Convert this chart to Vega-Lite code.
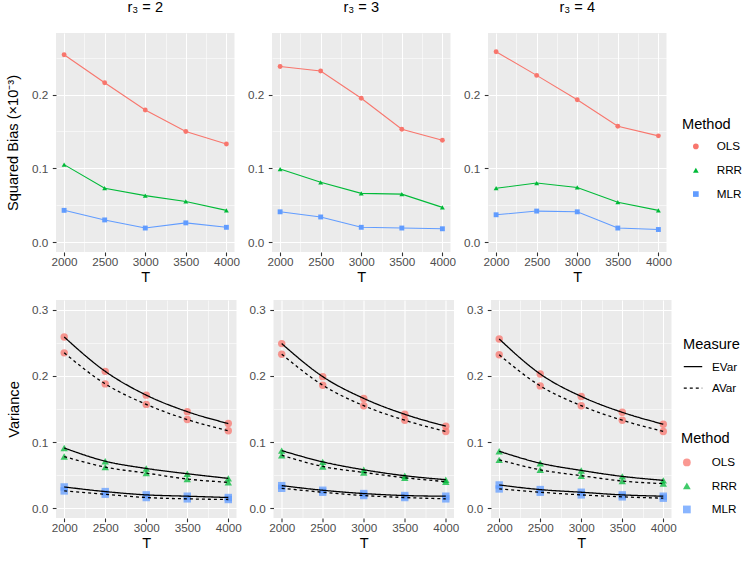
{
  "$schema": "https://vega.github.io/schema/vega-lite/v6.json",
  "padding": {"left": 5, "top": 0, "right": 5, "bottom": 0},
  "datasets": {
    "bias": [
      {"r3": 2, "T": 2000, "Method": "OLS", "value": 0.254},
      {"r3": 2, "T": 2500, "Method": "OLS", "value": 0.216},
      {"r3": 2, "T": 3000, "Method": "OLS", "value": 0.179},
      {"r3": 2, "T": 3500, "Method": "OLS", "value": 0.150},
      {"r3": 2, "T": 4000, "Method": "OLS", "value": 0.133},
      {"r3": 2, "T": 2000, "Method": "RRR", "value": 0.105},
      {"r3": 2, "T": 2500, "Method": "RRR", "value": 0.073},
      {"r3": 2, "T": 3000, "Method": "RRR", "value": 0.063},
      {"r3": 2, "T": 3500, "Method": "RRR", "value": 0.055},
      {"r3": 2, "T": 4000, "Method": "RRR", "value": 0.043},
      {"r3": 2, "T": 2000, "Method": "MLR", "value": 0.043},
      {"r3": 2, "T": 2500, "Method": "MLR", "value": 0.030},
      {"r3": 2, "T": 3000, "Method": "MLR", "value": 0.019},
      {"r3": 2, "T": 3500, "Method": "MLR", "value": 0.026},
      {"r3": 2, "T": 4000, "Method": "MLR", "value": 0.020},
      {"r3": 3, "T": 2000, "Method": "OLS", "value": 0.238},
      {"r3": 3, "T": 2500, "Method": "OLS", "value": 0.232},
      {"r3": 3, "T": 3000, "Method": "OLS", "value": 0.195},
      {"r3": 3, "T": 3500, "Method": "OLS", "value": 0.153},
      {"r3": 3, "T": 4000, "Method": "OLS", "value": 0.138},
      {"r3": 3, "T": 2000, "Method": "RRR", "value": 0.099},
      {"r3": 3, "T": 2500, "Method": "RRR", "value": 0.081},
      {"r3": 3, "T": 3000, "Method": "RRR", "value": 0.066},
      {"r3": 3, "T": 3500, "Method": "RRR", "value": 0.065},
      {"r3": 3, "T": 4000, "Method": "RRR", "value": 0.047},
      {"r3": 3, "T": 2000, "Method": "MLR", "value": 0.041},
      {"r3": 3, "T": 2500, "Method": "MLR", "value": 0.034},
      {"r3": 3, "T": 3000, "Method": "MLR", "value": 0.020},
      {"r3": 3, "T": 3500, "Method": "MLR", "value": 0.019},
      {"r3": 3, "T": 4000, "Method": "MLR", "value": 0.018},
      {"r3": 4, "T": 2000, "Method": "OLS", "value": 0.258},
      {"r3": 4, "T": 2500, "Method": "OLS", "value": 0.226},
      {"r3": 4, "T": 3000, "Method": "OLS", "value": 0.193},
      {"r3": 4, "T": 3500, "Method": "OLS", "value": 0.157},
      {"r3": 4, "T": 4000, "Method": "OLS", "value": 0.144},
      {"r3": 4, "T": 2000, "Method": "RRR", "value": 0.073},
      {"r3": 4, "T": 2500, "Method": "RRR", "value": 0.080},
      {"r3": 4, "T": 3000, "Method": "RRR", "value": 0.074},
      {"r3": 4, "T": 3500, "Method": "RRR", "value": 0.054},
      {"r3": 4, "T": 4000, "Method": "RRR", "value": 0.043},
      {"r3": 4, "T": 2000, "Method": "MLR", "value": 0.037},
      {"r3": 4, "T": 2500, "Method": "MLR", "value": 0.042},
      {"r3": 4, "T": 3000, "Method": "MLR", "value": 0.041},
      {"r3": 4, "T": 3500, "Method": "MLR", "value": 0.019},
      {"r3": 4, "T": 4000, "Method": "MLR", "value": 0.017}
    ],
    "var": [
      {"r3": 2, "T": 2000, "Method": "OLS", "Measure": "EVar", "value": 0.259},
      {"r3": 2, "T": 2500, "Method": "OLS", "Measure": "EVar", "value": 0.207},
      {"r3": 2, "T": 3000, "Method": "OLS", "Measure": "EVar", "value": 0.171},
      {"r3": 2, "T": 3500, "Method": "OLS", "Measure": "EVar", "value": 0.146},
      {"r3": 2, "T": 4000, "Method": "OLS", "Measure": "EVar", "value": 0.128},
      {"r3": 2, "T": 2000, "Method": "OLS", "Measure": "AVar", "value": 0.235},
      {"r3": 2, "T": 2500, "Method": "OLS", "Measure": "AVar", "value": 0.188},
      {"r3": 2, "T": 3000, "Method": "OLS", "Measure": "AVar", "value": 0.157},
      {"r3": 2, "T": 3500, "Method": "OLS", "Measure": "AVar", "value": 0.134},
      {"r3": 2, "T": 4000, "Method": "OLS", "Measure": "AVar", "value": 0.117},
      {"r3": 2, "T": 2000, "Method": "RRR", "Measure": "EVar", "value": 0.091},
      {"r3": 2, "T": 2500, "Method": "RRR", "Measure": "EVar", "value": 0.071},
      {"r3": 2, "T": 3000, "Method": "RRR", "Measure": "EVar", "value": 0.060},
      {"r3": 2, "T": 3500, "Method": "RRR", "Measure": "EVar", "value": 0.052},
      {"r3": 2, "T": 4000, "Method": "RRR", "Measure": "EVar", "value": 0.045},
      {"r3": 2, "T": 2000, "Method": "RRR", "Measure": "AVar", "value": 0.078},
      {"r3": 2, "T": 2500, "Method": "RRR", "Measure": "AVar", "value": 0.062},
      {"r3": 2, "T": 3000, "Method": "RRR", "Measure": "AVar", "value": 0.053},
      {"r3": 2, "T": 3500, "Method": "RRR", "Measure": "AVar", "value": 0.044},
      {"r3": 2, "T": 4000, "Method": "RRR", "Measure": "AVar", "value": 0.039},
      {"r3": 2, "T": 2000, "Method": "MLR", "Measure": "EVar", "value": 0.032},
      {"r3": 2, "T": 2500, "Method": "MLR", "Measure": "EVar", "value": 0.025},
      {"r3": 2, "T": 3000, "Method": "MLR", "Measure": "EVar", "value": 0.020},
      {"r3": 2, "T": 3500, "Method": "MLR", "Measure": "EVar", "value": 0.018},
      {"r3": 2, "T": 4000, "Method": "MLR", "Measure": "EVar", "value": 0.016},
      {"r3": 2, "T": 2000, "Method": "MLR", "Measure": "AVar", "value": 0.026},
      {"r3": 2, "T": 2500, "Method": "MLR", "Measure": "AVar", "value": 0.021},
      {"r3": 2, "T": 3000, "Method": "MLR", "Measure": "AVar", "value": 0.016},
      {"r3": 2, "T": 3500, "Method": "MLR", "Measure": "AVar", "value": 0.014},
      {"r3": 2, "T": 4000, "Method": "MLR", "Measure": "AVar", "value": 0.013},
      {"r3": 3, "T": 2000, "Method": "OLS", "Measure": "EVar", "value": 0.249},
      {"r3": 3, "T": 2500, "Method": "OLS", "Measure": "EVar", "value": 0.199},
      {"r3": 3, "T": 3000, "Method": "OLS", "Measure": "EVar", "value": 0.166},
      {"r3": 3, "T": 3500, "Method": "OLS", "Measure": "EVar", "value": 0.142},
      {"r3": 3, "T": 4000, "Method": "OLS", "Measure": "EVar", "value": 0.124},
      {"r3": 3, "T": 2000, "Method": "OLS", "Measure": "AVar", "value": 0.233},
      {"r3": 3, "T": 2500, "Method": "OLS", "Measure": "AVar", "value": 0.186},
      {"r3": 3, "T": 3000, "Method": "OLS", "Measure": "AVar", "value": 0.155},
      {"r3": 3, "T": 3500, "Method": "OLS", "Measure": "AVar", "value": 0.133},
      {"r3": 3, "T": 4000, "Method": "OLS", "Measure": "AVar", "value": 0.116},
      {"r3": 3, "T": 2000, "Method": "RRR", "Measure": "EVar", "value": 0.087},
      {"r3": 3, "T": 2500, "Method": "RRR", "Measure": "EVar", "value": 0.070},
      {"r3": 3, "T": 3000, "Method": "RRR", "Measure": "EVar", "value": 0.058},
      {"r3": 3, "T": 3500, "Method": "RRR", "Measure": "EVar", "value": 0.049},
      {"r3": 3, "T": 4000, "Method": "RRR", "Measure": "EVar", "value": 0.043},
      {"r3": 3, "T": 2000, "Method": "RRR", "Measure": "AVar", "value": 0.080},
      {"r3": 3, "T": 2500, "Method": "RRR", "Measure": "AVar", "value": 0.063},
      {"r3": 3, "T": 3000, "Method": "RRR", "Measure": "AVar", "value": 0.054},
      {"r3": 3, "T": 3500, "Method": "RRR", "Measure": "AVar", "value": 0.046},
      {"r3": 3, "T": 4000, "Method": "RRR", "Measure": "AVar", "value": 0.040},
      {"r3": 3, "T": 2000, "Method": "MLR", "Measure": "EVar", "value": 0.034},
      {"r3": 3, "T": 2500, "Method": "MLR", "Measure": "EVar", "value": 0.027},
      {"r3": 3, "T": 3000, "Method": "MLR", "Measure": "EVar", "value": 0.022},
      {"r3": 3, "T": 3500, "Method": "MLR", "Measure": "EVar", "value": 0.019},
      {"r3": 3, "T": 4000, "Method": "MLR", "Measure": "EVar", "value": 0.018},
      {"r3": 3, "T": 2000, "Method": "MLR", "Measure": "AVar", "value": 0.030},
      {"r3": 3, "T": 2500, "Method": "MLR", "Measure": "AVar", "value": 0.024},
      {"r3": 3, "T": 3000, "Method": "MLR", "Measure": "AVar", "value": 0.019},
      {"r3": 3, "T": 3500, "Method": "MLR", "Measure": "AVar", "value": 0.016},
      {"r3": 3, "T": 4000, "Method": "MLR", "Measure": "AVar", "value": 0.014},
      {"r3": 4, "T": 2000, "Method": "OLS", "Measure": "EVar", "value": 0.256},
      {"r3": 4, "T": 2500, "Method": "OLS", "Measure": "EVar", "value": 0.203},
      {"r3": 4, "T": 3000, "Method": "OLS", "Measure": "EVar", "value": 0.169},
      {"r3": 4, "T": 3500, "Method": "OLS", "Measure": "EVar", "value": 0.145},
      {"r3": 4, "T": 4000, "Method": "OLS", "Measure": "EVar", "value": 0.127},
      {"r3": 4, "T": 2000, "Method": "OLS", "Measure": "AVar", "value": 0.232},
      {"r3": 4, "T": 2500, "Method": "OLS", "Measure": "AVar", "value": 0.185},
      {"r3": 4, "T": 3000, "Method": "OLS", "Measure": "AVar", "value": 0.155},
      {"r3": 4, "T": 3500, "Method": "OLS", "Measure": "AVar", "value": 0.133},
      {"r3": 4, "T": 4000, "Method": "OLS", "Measure": "AVar", "value": 0.116},
      {"r3": 4, "T": 2000, "Method": "RRR", "Measure": "EVar", "value": 0.086},
      {"r3": 4, "T": 2500, "Method": "RRR", "Measure": "EVar", "value": 0.068},
      {"r3": 4, "T": 3000, "Method": "RRR", "Measure": "EVar", "value": 0.057},
      {"r3": 4, "T": 3500, "Method": "RRR", "Measure": "EVar", "value": 0.048},
      {"r3": 4, "T": 4000, "Method": "RRR", "Measure": "EVar", "value": 0.042},
      {"r3": 4, "T": 2000, "Method": "RRR", "Measure": "AVar", "value": 0.073},
      {"r3": 4, "T": 2500, "Method": "RRR", "Measure": "AVar", "value": 0.058},
      {"r3": 4, "T": 3000, "Method": "RRR", "Measure": "AVar", "value": 0.049},
      {"r3": 4, "T": 3500, "Method": "RRR", "Measure": "AVar", "value": 0.041},
      {"r3": 4, "T": 4000, "Method": "RRR", "Measure": "AVar", "value": 0.037},
      {"r3": 4, "T": 2000, "Method": "MLR", "Measure": "EVar", "value": 0.035},
      {"r3": 4, "T": 2500, "Method": "MLR", "Measure": "EVar", "value": 0.028},
      {"r3": 4, "T": 3000, "Method": "MLR", "Measure": "EVar", "value": 0.024},
      {"r3": 4, "T": 3500, "Method": "MLR", "Measure": "EVar", "value": 0.020},
      {"r3": 4, "T": 4000, "Method": "MLR", "Measure": "EVar", "value": 0.018},
      {"r3": 4, "T": 2000, "Method": "MLR", "Measure": "AVar", "value": 0.029},
      {"r3": 4, "T": 2500, "Method": "MLR", "Measure": "AVar", "value": 0.024},
      {"r3": 4, "T": 3000, "Method": "MLR", "Measure": "AVar", "value": 0.020},
      {"r3": 4, "T": 3500, "Method": "MLR", "Measure": "AVar", "value": 0.017},
      {"r3": 4, "T": 4000, "Method": "MLR", "Measure": "AVar", "value": 0.015}
    ]
  },
  "config": {
    "view": {"fill": "#EBEBEB", "stroke": null},
    "font": "Liberation Sans",
    "axis": {
      "domain": false,
      "tickColor": "#333333",
      "tickSize": 3.7,
      "tickWidth": 1.1,
      "labelColor": "#4D4D4D",
      "labelFont": "Liberation Sans",
      "labelFontSize": 11.7,
      "titleFont": "Liberation Sans",
      "titleFontSize": 14.6,
      "titleFontWeight": "normal",
      "titleColor": "black",
      "gridColor": "#FFFFFF",
      "gridOpacity": 1
    },
    "axisX": {"labelPadding": 0.5, "titlePadding": 2},
    "axisY": {"labelPadding": 4.5, "titlePadding": 10},
    "legend": {
      "titleFont": "Liberation Sans",
      "titleFontSize": 14.6,
      "titleFontWeight": "normal",
      "titleColor": "black",
      "labelFont": "Liberation Sans",
      "labelFontSize": 11.7,
      "labelColor": "black",
      "padding": 0
    },
    "title": {"font": "Liberation Sans", "fontSize": 14.6, "fontWeight": "normal", "color": "black", "offset": 18}
  },
  "spacing": 15,
  "resolve": {"scale": {"color": "independent", "shape": "independent", "strokeDash": "independent"}},
  "vconcat": [
    {
      "spacing": 37,
      "bounds": "flush",
      "hconcat": [
        {
          "width": 178.5, "height": 219,
          "title": "r₃ = 2",
          "data": {"name": "bias"},
          "transform": [{"filter": "datum.r3 == 2"}],
          "layer": [
            {
              "mark": {"type": "point", "filled": true, "size": 24, "opacity": 1},
              "encoding": {
                "x": {"field": "T", "type": "quantitative", "scale": {"domain": [1900, 4100], "nice": false, "zero": false}, "axis": {"orient": "top", "values": [2250, 2750, 3250, 3750], "grid": true, "gridWidth": 0.55, "labels": false, "ticks": false, "domain": false, "title": null}},
                "y": {"field": "value", "type": "quantitative", "scale": {"domain": [-0.0135, 0.2835], "nice": false, "zero": false}, "axis": {"orient": "right", "values": [0.05, 0.15, 0.25], "grid": true, "gridWidth": 0.55, "labels": false, "ticks": false, "domain": false, "title": null}},
                "color": {"field": "Method", "type": "nominal", "scale": {"domain": ["OLS", "RRR", "MLR"], "range": ["#F8766D", "#00BA38", "#619CFF"]}},
                "shape": {"field": "Method", "type": "nominal", "scale": {"domain": ["OLS", "RRR", "MLR"], "range": ["circle", "triangle-up", "square"]}, "legend": null}
              }
            },
            {
              "mark": {"type": "line", "strokeWidth": 1.1},
              "encoding": {
                "x": {"field": "T", "type": "quantitative", "axis": {"orient": "bottom", "values": [2000, 2500, 3000, 3500, 4000], "format": "d", "grid": true, "gridWidth": 1.1, "title": "T"}},
                "y": {"field": "value", "type": "quantitative", "axis": {"orient": "left", "values": [0, 0.1, 0.2], "format": ".1f", "grid": true, "gridWidth": 1.1, "title": "Squared Bias (×10⁻³)", "titlePadding": 11}},
                "color": {"field": "Method", "type": "nominal",
                  "legend": {"title": "Method", "orient": "none", "legendX": 626, "legendY": 84, "symbolSize": 32, "symbolOffset": 8, "symbolStrokeWidth": 0, "labelOffset": 15, "rowPadding": 10.8, "titlePadding": 9}}
              }
            }
          ]
        },
        {
          "width": 178.5, "height": 219,
          "title": "r₃ = 3",
          "data": {"name": "bias"},
          "transform": [{"filter": "datum.r3 == 3"}],
          "layer": [
            {
              "mark": {"type": "point", "filled": true, "size": 24, "opacity": 1},
              "encoding": {
                "x": {"field": "T", "type": "quantitative", "scale": {"domain": [1900, 4100], "nice": false, "zero": false}, "axis": {"orient": "top", "values": [2250, 2750, 3250, 3750], "grid": true, "gridWidth": 0.55, "labels": false, "ticks": false, "domain": false, "title": null}},
                "y": {"field": "value", "type": "quantitative", "scale": {"domain": [-0.0135, 0.2835], "nice": false, "zero": false}, "axis": {"orient": "right", "values": [0.05, 0.15, 0.25], "grid": true, "gridWidth": 0.55, "labels": false, "ticks": false, "domain": false, "title": null}},
                "color": {"field": "Method", "type": "nominal"},
                "shape": {"field": "Method", "type": "nominal", "legend": null}
              }
            },
            {
              "mark": {"type": "line", "strokeWidth": 1.1},
              "encoding": {
                "x": {"field": "T", "type": "quantitative", "axis": {"orient": "bottom", "values": [2000, 2500, 3000, 3500, 4000], "format": "d", "grid": true, "gridWidth": 1.1, "title": "T"}},
                "y": {"field": "value", "type": "quantitative", "axis": {"orient": "left", "values": [0, 0.1, 0.2], "format": ".1f", "grid": true, "gridWidth": 1.1, "title": null}},
                "color": {"field": "Method", "type": "nominal"}
              }
            }
          ]
        },
        {
          "width": 178.5, "height": 219,
          "title": "r₃ = 4",
          "data": {"name": "bias"},
          "transform": [{"filter": "datum.r3 == 4"}],
          "layer": [
            {
              "mark": {"type": "point", "filled": true, "size": 24, "opacity": 1},
              "encoding": {
                "x": {"field": "T", "type": "quantitative", "scale": {"domain": [1900, 4100], "nice": false, "zero": false}, "axis": {"orient": "top", "values": [2250, 2750, 3250, 3750], "grid": true, "gridWidth": 0.55, "labels": false, "ticks": false, "domain": false, "title": null}},
                "y": {"field": "value", "type": "quantitative", "scale": {"domain": [-0.0135, 0.2835], "nice": false, "zero": false}, "axis": {"orient": "right", "values": [0.05, 0.15, 0.25], "grid": true, "gridWidth": 0.55, "labels": false, "ticks": false, "domain": false, "title": null}},
                "color": {"field": "Method", "type": "nominal"},
                "shape": {"field": "Method", "type": "nominal", "legend": null}
              }
            },
            {
              "mark": {"type": "line", "strokeWidth": 1.1},
              "encoding": {
                "x": {"field": "T", "type": "quantitative", "axis": {"orient": "bottom", "values": [2000, 2500, 3000, 3500, 4000], "format": "d", "grid": true, "gridWidth": 1.1, "title": "T"}},
                "y": {"field": "value", "type": "quantitative", "axis": {"orient": "left", "values": [0, 0.1, 0.2], "format": ".1f", "grid": true, "gridWidth": 1.1, "title": null}},
                "color": {"field": "Method", "type": "nominal"}
              }
            }
          ]
        }
      ]
    },
    {
      "spacing": 36.5,
      "bounds": "flush",
      "hconcat": [
        {
          "width": 180.5, "height": 218,
          "data": {"name": "var"},
          "transform": [{"filter": "datum.r3 == 2"}],
          "layer": [
            {
              "mark": {"type": "point", "filled": true, "size": 55, "opacity": 0.75},
              "encoding": {
                "x": {"field": "T", "type": "quantitative", "scale": {"domain": [1900, 4100], "nice": false, "zero": false}, "axis": {"orient": "top", "values": [2250, 2750, 3250, 3750], "grid": true, "gridWidth": 0.55, "labels": false, "ticks": false, "domain": false, "title": null}},
                "y": {"field": "value", "type": "quantitative", "scale": {"domain": [-0.015, 0.315], "nice": false, "zero": false}, "axis": {"orient": "right", "values": [0.05, 0.15, 0.25], "grid": true, "gridWidth": 0.55, "labels": false, "ticks": false, "domain": false, "title": null}},
                "color": {"field": "Method", "type": "nominal", "scale": {"domain": ["OLS", "RRR", "MLR"], "range": ["#F8766D", "#00BA38", "#619CFF"]},
                  "legend": {"title": "Method", "orient": "none", "legendX": 625, "legendY": 131, "symbolSize": 60, "symbolOffset": 0, "labelOffset": 19, "rowPadding": 10.5, "titlePadding": 11}},
                "shape": {"field": "Method", "type": "nominal", "scale": {"domain": ["OLS", "RRR", "MLR"], "range": ["circle", "triangle-up", "square"]}}
              }
            },
            {
              "mark": {"type": "line", "color": "black", "strokeWidth": 1.3, "interpolate": "monotone"},
              "encoding": {
                "x": {"field": "T", "type": "quantitative", "axis": {"orient": "bottom", "values": [2000, 2500, 3000, 3500, 4000], "format": "d", "grid": true, "gridWidth": 1.1, "title": "T"}},
                "y": {"field": "value", "type": "quantitative", "axis": {"orient": "left", "values": [0, 0.1, 0.2, 0.3], "format": ".1f", "grid": true, "gridWidth": 1.1, "title": "Variance"}},
                "detail": {"field": "Method", "type": "nominal"},
                "strokeDash": {"field": "Measure", "type": "nominal", "scale": {"domain": ["EVar", "AVar"], "range": [[1, 0], [3, 3]]},
                  "legend": {"title": "Measure", "orient": "none", "legendX": 627, "legendY": 37, "symbolSize": 340, "symbolStrokeWidth": 1.3, "labelOffset": 9, "rowPadding": 4.5, "titlePadding": 5}}
              }
            }
          ]
        },
        {
          "width": 180.5, "height": 218,
          "data": {"name": "var"},
          "transform": [{"filter": "datum.r3 == 3"}],
          "layer": [
            {
              "mark": {"type": "point", "filled": true, "size": 55, "opacity": 0.75},
              "encoding": {
                "x": {"field": "T", "type": "quantitative", "scale": {"domain": [1900, 4100], "nice": false, "zero": false}, "axis": {"orient": "top", "values": [2250, 2750, 3250, 3750], "grid": true, "gridWidth": 0.55, "labels": false, "ticks": false, "domain": false, "title": null}},
                "y": {"field": "value", "type": "quantitative", "scale": {"domain": [-0.015, 0.315], "nice": false, "zero": false}, "axis": {"orient": "right", "values": [0.05, 0.15, 0.25], "grid": true, "gridWidth": 0.55, "labels": false, "ticks": false, "domain": false, "title": null}},
                "color": {"field": "Method", "type": "nominal"},
                "shape": {"field": "Method", "type": "nominal"}
              }
            },
            {
              "mark": {"type": "line", "color": "black", "strokeWidth": 1.3, "interpolate": "monotone"},
              "encoding": {
                "x": {"field": "T", "type": "quantitative", "axis": {"orient": "bottom", "values": [2000, 2500, 3000, 3500, 4000], "format": "d", "grid": true, "gridWidth": 1.1, "title": "T"}},
                "y": {"field": "value", "type": "quantitative", "axis": {"orient": "left", "values": [0, 0.1, 0.2, 0.3], "format": ".1f", "grid": true, "gridWidth": 1.1, "title": null}},
                "detail": {"field": "Method", "type": "nominal"},
                "strokeDash": {"field": "Measure", "type": "nominal"}
              }
            }
          ]
        },
        {
          "width": 180.5, "height": 218,
          "data": {"name": "var"},
          "transform": [{"filter": "datum.r3 == 4"}],
          "layer": [
            {
              "mark": {"type": "point", "filled": true, "size": 55, "opacity": 0.75},
              "encoding": {
                "x": {"field": "T", "type": "quantitative", "scale": {"domain": [1900, 4100], "nice": false, "zero": false}, "axis": {"orient": "top", "values": [2250, 2750, 3250, 3750], "grid": true, "gridWidth": 0.55, "labels": false, "ticks": false, "domain": false, "title": null}},
                "y": {"field": "value", "type": "quantitative", "scale": {"domain": [-0.015, 0.315], "nice": false, "zero": false}, "axis": {"orient": "right", "values": [0.05, 0.15, 0.25], "grid": true, "gridWidth": 0.55, "labels": false, "ticks": false, "domain": false, "title": null}},
                "color": {"field": "Method", "type": "nominal"},
                "shape": {"field": "Method", "type": "nominal"}
              }
            },
            {
              "mark": {"type": "line", "color": "black", "strokeWidth": 1.3, "interpolate": "monotone"},
              "encoding": {
                "x": {"field": "T", "type": "quantitative", "axis": {"orient": "bottom", "values": [2000, 2500, 3000, 3500, 4000], "format": "d", "grid": true, "gridWidth": 1.1, "title": "T"}},
                "y": {"field": "value", "type": "quantitative", "axis": {"orient": "left", "values": [0, 0.1, 0.2, 0.3], "format": ".1f", "grid": true, "gridWidth": 1.1, "title": null}},
                "detail": {"field": "Method", "type": "nominal"},
                "strokeDash": {"field": "Measure", "type": "nominal"}
              }
            }
          ]
        }
      ]
    }
  ]
}
